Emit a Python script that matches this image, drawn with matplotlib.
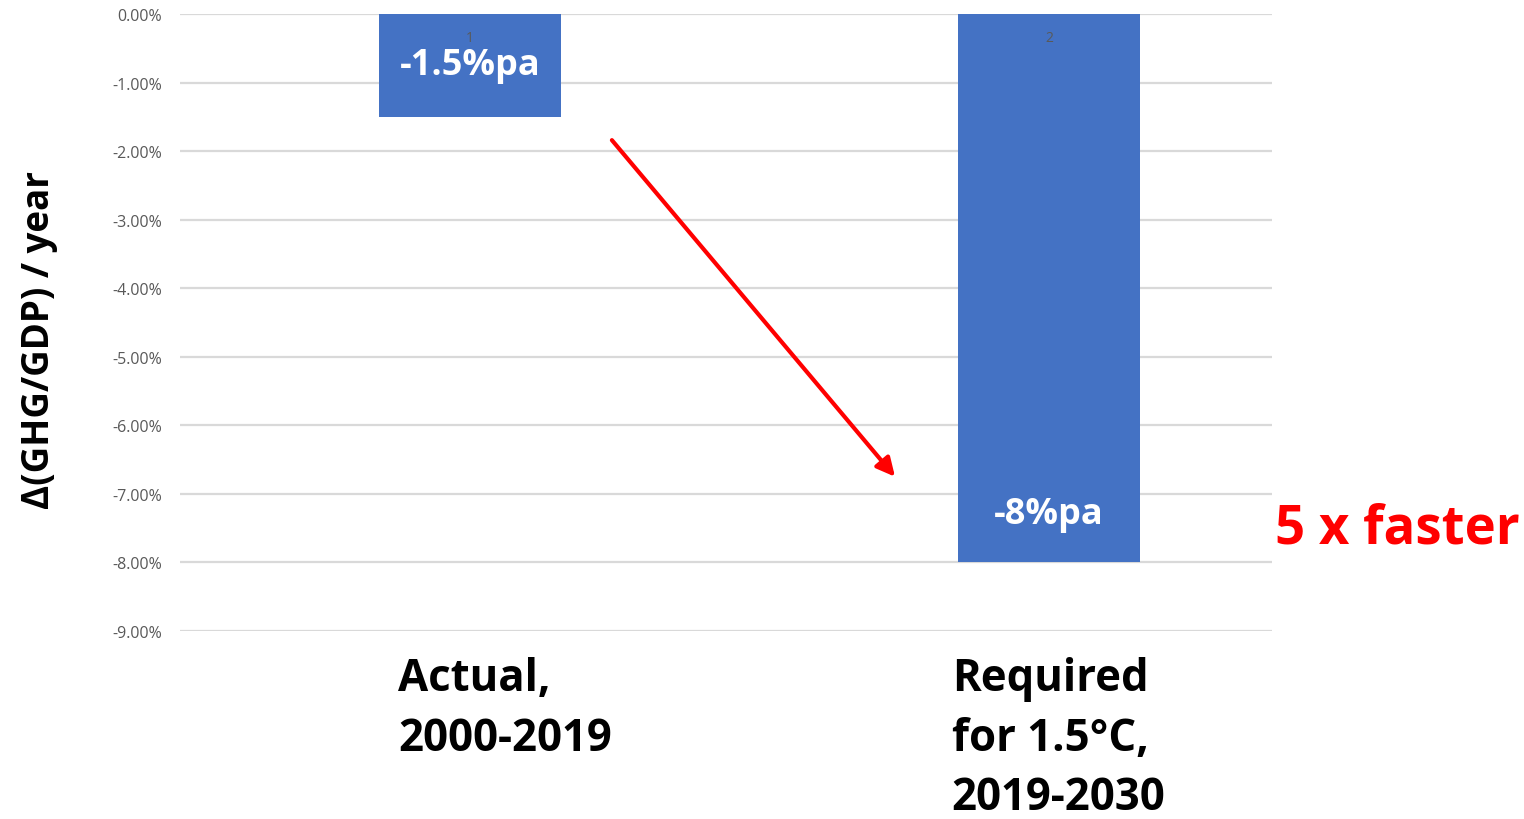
import matplotlib
matplotlib.use("Agg")
import matplotlib.pyplot as plt
from matplotlib.ticker import FuncFormatter

# Data
categories = ["Actual,\n2000-2019", "Required\nfor 1.5°C,\n2019-2030"]
values = [-1.5, -8.0]
value_labels = ["-1.5%pa", "-8%pa"]
index_labels = ["1", "2"]
yticks = [0, -1, -2, -3, -4, -5, -6, -7, -8, -9]

BAR_COLOR = "#4472C4"
GRID_COLOR = "#D9D9D9"
TICK_COLOR = "#595959"
FONT = ["Open Sans", "DejaVu Sans"]

fig = plt.figure(figsize=(15.24, 8.2), dpi=100)
ax = fig.add_axes([0.1181, 0.2293, 0.7165, 0.7524])

x = list(range(len(categories)))
ax.bar(x, values, width=0.314, color=BAR_COLOR, zorder=2)

ax.set_ylim(-9, 0)
ax.set_xlim(-0.501, 1.385)
ax.set_yticks(yticks)
ax.yaxis.set_major_formatter(FuncFormatter(lambda v, p: f"{v:.2f}%"))
ax.tick_params(axis="y", length=0, pad=13, labelsize=11.5, labelcolor=TICK_COLOR)
for lbl in ax.get_yticklabels():
    lbl.set_fontfamily(FONT)
ax.set_xticks([])
ax.grid(axis="y", color=GRID_COLOR, linewidth=1.6, zorder=1)
for s in ax.spines.values():
    s.set_visible(False)

ax.set_ylabel("Δ(GHG/GDP) / year", fontsize=26.5, fontweight="bold",
              family=FONT, color="black")
ax.yaxis.set_label_coords(-0.112, 0.473)

# Value labels inside bars
label_pos = [values[0] / 2, values[1] + 0.7]
for xi, yv, txt in zip(x, label_pos, value_labels):
    ax.text(xi, yv, txt, ha="center", va="center", color="white",
            fontsize=26, fontweight="bold", family=FONT, zorder=3)

# Small series index labels near the bar tops
for xi, txt in zip(x, index_labels):
    ax.text(xi, -0.35, txt, ha="center", va="center", color=TICK_COLOR,
            fontsize=10, family=FONT, zorder=3)

# Category labels beneath the plot
cat_dx = [-0.124, -0.168]
for xi, dx, txt in zip(x, cat_dx, categories):
    ax.text(xi + dx, -9.37, txt, ha="left", va="top", color="black",
            fontsize=31.5, fontweight="bold", family=FONT,
            linespacing=1.42, clip_on=False)

# Arrow between the two bars
ax.annotate("", xy=(0.734, -6.75), xytext=(0.245, -1.84),
            arrowprops=dict(arrowstyle="-|>,head_length=1.1,head_width=0.55",
                            color="#FF0000", lw=3, shrinkA=0, shrinkB=0),
            zorder=4)

ax.text(1.39, -7.5, "5 x faster", ha="left", va="center", color="#FF0000",
        fontsize=38, fontweight="bold", family=FONT, clip_on=False)

fig.savefig("out.png", dpi=100)
